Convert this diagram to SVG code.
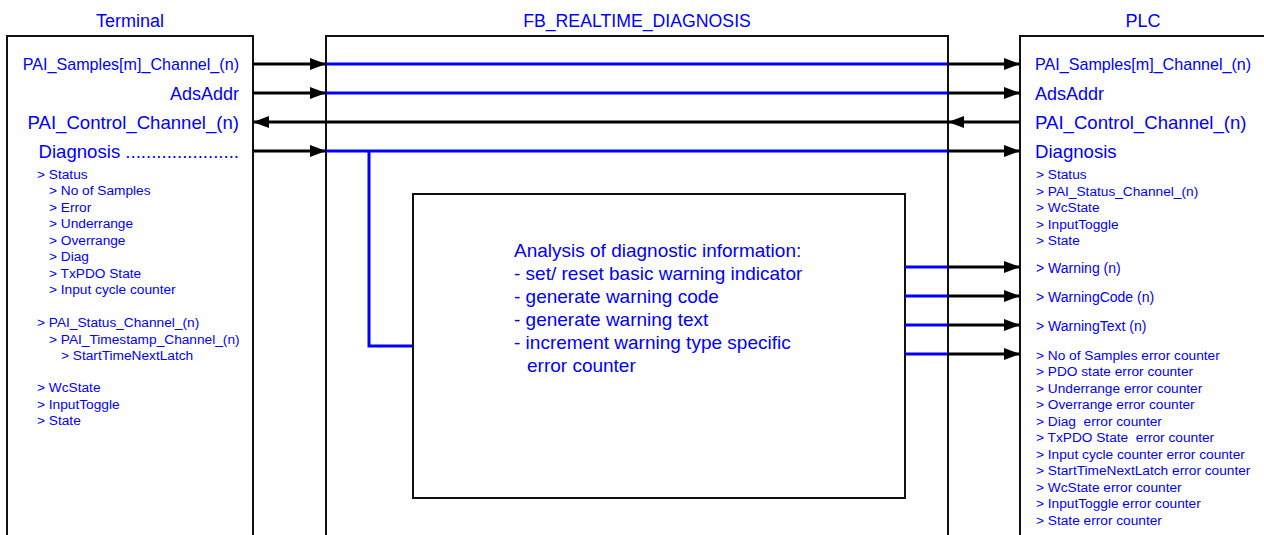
<svg xmlns="http://www.w3.org/2000/svg" width="1264" height="535" viewBox="0 0 1264 535">
<style>
text{font-family:"Liberation Sans",Arial,sans-serif;fill:#0000ff}
.t{font-size:18px;text-anchor:middle}
.ft{font-size:17.7px;text-anchor:middle}
.b{font-size:16.1px}
.a{font-size:18px}
.L{font-size:18.6px}
.s{font-size:13.7px}
.w{font-size:14px}
.m{font-size:19px}
.r{text-anchor:end}
.box{fill:none;stroke:#111;stroke-width:2}
.k{stroke:#000;stroke-width:3;fill:none}
.bl{stroke:#0000ff;stroke-width:3;fill:none}
</style>
<defs>
<marker id="ah" viewBox="0 0 16 12" refX="16" refY="6" markerWidth="16" markerHeight="12" markerUnits="userSpaceOnUse" orient="auto">
<path d="M0,0 L16,6 L0,12 Z" fill="#000"/>
</marker>
</defs>
<rect width="1264" height="535" fill="#fff"/>

<g id="terminal">
<text class="t" x="130" y="27">Terminal</text>
<path class="box" d="M7,540 V36 H253 V540"/>
<text class="b r" x="239" y="70">PAI_Samples[m]_Channel_(n)</text>
<text class="a r" x="239" y="99.5">AdsAddr</text>
<text class="L r" x="239" y="129">PAI_Control_Channel_(n)</text>
<text class="L r" x="239" y="158">Diagnosis ......................</text>
<text class="s" x="37" y="178.5">&gt; Status</text>
<text class="s" x="49" y="195">&gt; No of Samples</text>
<text class="s" x="49" y="211.5">&gt; Error</text>
<text class="s" x="49" y="228">&gt; Underrange</text>
<text class="s" x="49" y="244.5">&gt; Overrange</text>
<text class="s" x="49" y="261">&gt; Diag</text>
<text class="s" x="49" y="277.5">&gt; TxPDO State</text>
<text class="s" x="49" y="294">&gt; Input cycle counter</text>
<text class="s" x="37" y="327">&gt; PAI_Status_Channel_(n)</text>
<text class="s" x="49" y="343.5">&gt; PAI_Timestamp_Channel_(n)</text>
<text class="s" x="61" y="359.5">&gt; StartTimeNextLatch</text>
<text class="s" x="37" y="392">&gt; WcState</text>
<text class="s" x="37" y="408.5">&gt; InputToggle</text>
<text class="s" x="37" y="425">&gt; State</text>
</g>

<g id="fb">
<text class="ft" x="637" y="27">FB_REALTIME_DIAGNOSIS</text>
<path class="box" d="M326,540 V36 H948 V540"/>
</g>

<g id="analysis">
<rect class="box" x="413" y="194" width="492" height="304"/>
<text class="m" x="514" y="256.5">Analysis of diagnostic information:</text>
<text class="m" x="514" y="279.5">- set/ reset basic warning indicator</text>
<text class="m" x="514" y="302.5">- generate warning code</text>
<text class="m" x="514" y="325.5">- generate warning text</text>
<text class="m" x="514" y="348.5">- increment warning type specific</text>
<text class="m" x="527" y="371.5">error counter</text>
</g>

<g id="plc">
<text class="t" x="1143" y="27">PLC</text>
<path class="box" d="M1020,540 V36 H1270"/>
<text class="b" x="1035" y="70">PAI_Samples[m]_Channel_(n)</text>
<text class="a" x="1035" y="99.5">AdsAddr</text>
<text class="L" x="1035" y="129">PAI_Control_Channel_(n)</text>
<text class="L" x="1035" y="158">Diagnosis</text>
<text class="s" x="1036" y="179">&gt; Status</text>
<text class="s" x="1036" y="195.5">&gt; PAI_Status_Channel_(n)</text>
<text class="s" x="1036" y="212">&gt; WcState</text>
<text class="s" x="1036" y="228.5">&gt; InputToggle</text>
<text class="s" x="1036" y="245">&gt; State</text>
<text class="w" x="1036" y="273">&gt; Warning (n)</text>
<text class="w" x="1036" y="302">&gt; WarningCode (n)</text>
<text class="w" x="1036" y="331">&gt; WarningText (n)</text>
<text class="s" x="1036" y="359.5">&gt; No of Samples error counter</text>
<text class="s" x="1036" y="376">&gt; PDO state error counter</text>
<text class="s" x="1036" y="392.5">&gt; Underrange error counter</text>
<text class="s" x="1036" y="409">&gt; Overrange error counter</text>
<text class="s" x="1036" y="425.5" xml:space="preserve">&gt; Diag  error counter</text>
<text class="s" x="1036" y="442" xml:space="preserve">&gt; TxPDO State  error counter</text>
<text class="s" x="1036" y="458.5">&gt; Input cycle counter error counter</text>
<text class="s" x="1036" y="475">&gt; StartTimeNextLatch error counter</text>
<text class="s" x="1036" y="491.5">&gt; WcState error counter</text>
<text class="s" x="1036" y="508">&gt; InputToggle error counter</text>
<text class="s" x="1036" y="524.5">&gt; State error counter</text>
</g>

<g id="connectors">
<line class="k" x1="253" y1="64" x2="326" y2="64" marker-end="url(#ah)"/>
<line class="bl" x1="326" y1="64" x2="948" y2="64"/>
<line class="k" x1="948" y1="64" x2="1020" y2="64" marker-end="url(#ah)"/>

<line class="k" x1="253" y1="93" x2="326" y2="93" marker-end="url(#ah)"/>
<line class="bl" x1="326" y1="93" x2="948" y2="93"/>
<line class="k" x1="948" y1="93" x2="1020" y2="93" marker-end="url(#ah)"/>

<line class="k" x1="1020" y1="122" x2="948" y2="122" marker-end="url(#ah)"/>
<line class="k" x1="948" y1="122" x2="253" y2="122" marker-end="url(#ah)"/>

<line class="k" x1="253" y1="151" x2="326" y2="151" marker-end="url(#ah)"/>
<line class="bl" x1="326" y1="151" x2="948" y2="151"/>
<line class="k" x1="948" y1="151" x2="1020" y2="151" marker-end="url(#ah)"/>

<polyline class="bl" points="369,151 369,346 413,346"/>

<line class="bl" x1="905" y1="267" x2="948" y2="267"/>
<line class="k" x1="948" y1="267" x2="1020" y2="267" marker-end="url(#ah)"/>
<line class="bl" x1="905" y1="296" x2="948" y2="296"/>
<line class="k" x1="948" y1="296" x2="1020" y2="296" marker-end="url(#ah)"/>
<line class="bl" x1="905" y1="325" x2="948" y2="325"/>
<line class="k" x1="948" y1="325" x2="1020" y2="325" marker-end="url(#ah)"/>
<line class="bl" x1="905" y1="354" x2="948" y2="354"/>
<line class="k" x1="948" y1="354" x2="1020" y2="354" marker-end="url(#ah)"/>
</g>
</svg>
